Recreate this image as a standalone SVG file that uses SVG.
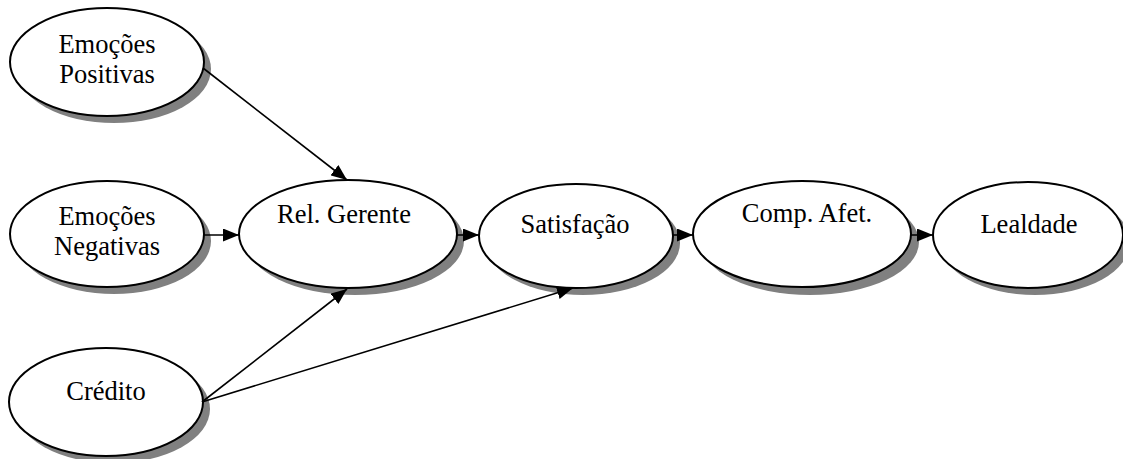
<svg xmlns="http://www.w3.org/2000/svg" width="1123" height="459" viewBox="0 0 1123 459">
  <style>
    .shadow { fill: #808080; stroke: none; }
    .node { fill: #ffffff; stroke: #000000; stroke-width: 2; }
    .label { font-family: "Liberation Serif", "Times New Roman", serif; font-size: 26.5px; fill: #000000; text-anchor: middle; }
    .edge { stroke: #000000; stroke-width: 1.6; fill: none; marker-end: url(#arrow); }
  </style>
  <defs>
    <marker id="arrow" viewBox="0 0 16 13" refX="16" refY="6.5" markerWidth="16" markerHeight="13" markerUnits="userSpaceOnUse" orient="auto">
      <path d="M0,0 L16,6.5 L0,13 z" fill="#000000"/>
    </marker>
  </defs>

  <g id="node-emocoes-positivas">
    <ellipse class="shadow" cx="114" cy="69" rx="97" ry="54"/>
    <ellipse class="node" cx="107" cy="62" rx="97" ry="54"/>
    <text class="label" x="107" y="53">Emoções</text>
    <text class="label" x="107" y="83">Positivas</text>
  </g>

  <g id="node-emocoes-negativas">
    <ellipse class="shadow" cx="114" cy="241" rx="97" ry="53"/>
    <ellipse class="node" cx="107" cy="234" rx="97" ry="53"/>
    <text class="label" x="107" y="225">Emoções</text>
    <text class="label" x="107" y="255">Negativas</text>
  </g>

  <g id="node-credito">
    <ellipse class="shadow" cx="113" cy="409" rx="97" ry="54"/>
    <ellipse class="node" cx="106" cy="402" rx="97" ry="54"/>
    <text class="label" x="106" y="400">Crédito</text>
  </g>

  <g id="node-rel-gerente">
    <ellipse class="shadow" cx="355" cy="241" rx="109" ry="54"/>
    <ellipse class="node" cx="348" cy="234" rx="109" ry="54"/>
    <text class="label" x="344" y="223">Rel. Gerente</text>
  </g>

  <g id="node-satisfacao">
    <ellipse class="shadow" cx="583" cy="243" rx="97" ry="52"/>
    <ellipse class="node" cx="576" cy="236" rx="97" ry="52"/>
    <text class="label" x="575" y="233">Satisfação</text>
  </g>

  <g id="node-comp-afet">
    <ellipse class="shadow" cx="810" cy="242" rx="109" ry="53"/>
    <ellipse class="node" cx="802" cy="234" rx="109" ry="53"/>
    <text class="label" x="807" y="222">Comp. Afet.</text>
  </g>

  <g id="node-lealdade">
    <ellipse class="shadow" cx="1035" cy="242" rx="95" ry="53"/>
    <ellipse class="node" cx="1028" cy="235" rx="95" ry="53"/>
    <text class="label" x="1029" y="233">Lealdade</text>
  </g>

  <g id="connectors">
    <line class="edge" x1="203" y1="68" x2="347" y2="180"/>
    <line class="edge" x1="204" y1="235" x2="239" y2="235"/>
    <line class="edge" x1="202" y1="402" x2="347" y2="289"/>
    <line class="edge" x1="202" y1="402" x2="573" y2="288"/>
    <line class="edge" x1="457" y1="235" x2="479" y2="235"/>
    <line class="edge" x1="673" y1="235" x2="693" y2="235"/>
    <line class="edge" x1="911" y1="235" x2="933" y2="235"/>
  </g>
</svg>
